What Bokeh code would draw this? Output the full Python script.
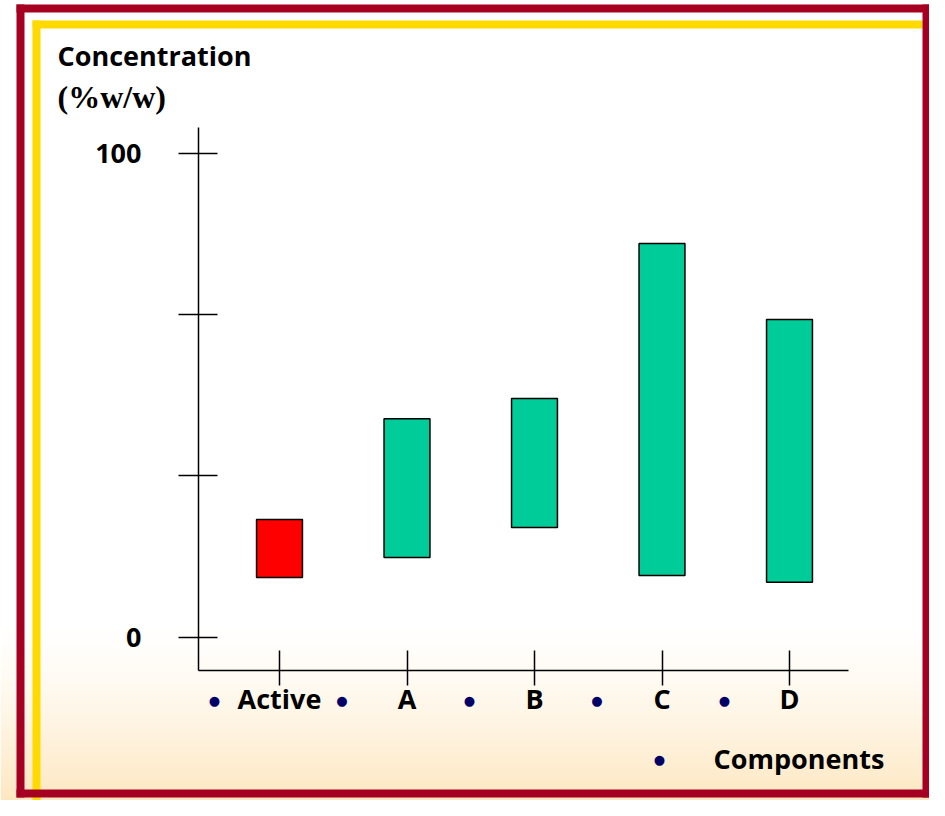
from bokeh.plotting import figure
from bokeh.models import Range1d, LinearAxis, FixedTicker
from bokeh.embed import file_html
from bokeh.resources import INLINE
from bokeh.core.properties import value

# ---------------- data ----------------
categories = ["Active", "A", "B", "C", "D"]
conc_low = [12.3, 16.4, 22.6, 12.7, 11.3]
conc_high = [24.3, 45.1, 49.3, 81.3, 65.6]
bar_colors = ["#FF0000", "#00CC99", "#00CC99", "#00CC99", "#00CC99"]
y_ticks = [0, 100 / 3, 200 / 3, 100]
y_tick_labels = ["0", "", "", "100"]
y_title = "Concentration"
y_unit = "(%w/w)"
x_title = "Components"

# ---------------- layout ----------------
W, H = 929, 800
PX_PER_UNIT_Y = 4.84
Y0_PX = 636.5          # canvas y (from top) of value 0
PX_PER_CAT = 127.5
X0_PX = 279            # canvas x of first category

y_top = Y0_PX / PX_PER_UNIT_Y
y_bot = -(H - Y0_PX) / PX_PER_UNIT_Y
x_left = -X0_PX / PX_PER_CAT
x_right = (W - X0_PX) / PX_PER_CAT

def xv(px):
    return (px - X0_PX) / PX_PER_CAT

def yv(py):
    return (Y0_PX - py) / PX_PER_UNIT_Y

FONT = "Open Sans"

p = figure(width=W, height=H, output_backend="svg", toolbar_location=None,
           x_range=Range1d(x_left, x_right), y_range=Range1d(y_bot, y_top),
           x_axis_type=None, y_axis_type=None, min_border=0,
           background_fill_color="white", border_fill_color="white",
           outline_line_color=None)
p.grid.visible = False
p.extra_x_ranges = {"px": Range1d(0, W)}
p.extra_y_ranges = {"py": Range1d(H, 0)}

# background gradient (white -> light peach)
g0, g1 = 620, 800
n = 50
c_end = (253, 231, 192)
lefts, rights, tops, bots, cols = [], [], [], [], []
for i in range(n):
    t0 = g0 + (g1 - g0) * i / n
    t1 = g0 + (g1 - g0) * (i + 1) / n
    f = ((i + 0.5) / n) ** 1.4
    r = round(255 + (c_end[0] - 255) * f)
    g = round(255 + (c_end[1] - 255) * f)
    b = round(255 + (c_end[2] - 255) * f)
    lefts.append(0); rights.append(W); tops.append(t0); bots.append(t1 + 0.5)
    cols.append("#%02x%02x%02x" % (r, g, b))
p.quad(left=lefts, right=rights, top=tops, bottom=bots, fill_color=cols,
       line_color=None, x_range_name="px", y_range_name="py", level="underlay")

# frame decoration
RED = "#A50021"
YEL = "#FFDA00"
p.quad(left=[32, 32], right=[40, 922], top=[20, 20], bottom=[800, 28],
       fill_color=YEL, line_color=None, x_range_name="px", y_range_name="py")
p.quad(left=[16, 16, 922, 16], right=[24, 929, 929, 929], top=[4, 4, 4, 789],
       bottom=[797, 12, 797, 797], fill_color=RED, line_color=None,
       x_range_name="px", y_range_name="py")

# bars
x_idx = list(range(len(categories)))
p.vbar(x=x_idx, width=0.36, bottom=conc_low, top=conc_high,
       fill_color=bar_colors, line_color="black", line_width=1.5)

# axes
yaxis = LinearAxis(fixed_location=xv(198), bounds=(yv(670), yv(127)),
                   ticker=FixedTicker(ticks=y_ticks),
                   major_label_overrides=dict(zip(y_ticks, y_tick_labels)))
yaxis.major_tick_in = 19
yaxis.major_tick_out = 20
yaxis.minor_tick_line_color = None
yaxis.axis_line_width = 1.5
yaxis.major_tick_line_width = 1.5
yaxis.axis_line_color = "black"
yaxis.major_tick_line_color = "black"
yaxis.major_label_standoff = 37
yaxis.major_label_text_font = FONT
yaxis.major_label_text_font_style = "bold"
yaxis.major_label_text_font_size = "27px"
yaxis.major_label_text_color = "black"
p.add_layout(yaxis, "left")

xaxis = LinearAxis(fixed_location=yv(670), bounds=(xv(198), xv(848)),
                   ticker=FixedTicker(ticks=x_idx),
                   major_label_overrides=dict(zip(x_idx, categories)))
xaxis.major_tick_in = 20
xaxis.major_tick_out = 15
xaxis.minor_tick_line_color = None
xaxis.axis_line_width = 1.5
xaxis.major_tick_line_width = 1.5
xaxis.axis_line_color = "black"
xaxis.major_tick_line_color = "black"
xaxis.major_label_standoff = -6
xaxis.major_label_text_font = FONT
xaxis.major_label_text_font_style = "bold"
xaxis.major_label_text_font_size = "27px"
xaxis.major_label_text_color = "black"
p.add_layout(xaxis, "below")

# bullets before each category label
BULLET = "\u25CF"
p.text(x=x_idx, y=[700] * len(x_idx), text=[BULLET] * len(x_idx),
       x_offset=-65, y_range_name="py", text_align="center",
       text_baseline="middle", text_font=value("DejaVu Sans"),
       text_font_size="13px", text_color="#000066")

# axis titles
p.text(x=[57], y=[55], text=[y_title], x_range_name="px", y_range_name="py",
       text_align="left", text_baseline="middle", text_font=value(FONT),
       text_font_style="bold", text_font_size="27px", text_color="black")
p.text(x=[57], y=[96], text=[y_unit], x_range_name="px", y_range_name="py",
       text_align="left", text_baseline="middle",
       text_font=value("Liberation Serif"), text_font_style="bold",
       text_font_size="32px", text_color="black")
p.text(x=[659], y=[759], text=[BULLET], x_range_name="px", y_range_name="py",
       text_align="center", text_baseline="middle",
       text_font=value("DejaVu Sans"), text_font_size="13px",
       text_color="#000066")
p.text(x=[713], y=[758], text=[x_title], x_range_name="px", y_range_name="py",
       text_align="left", text_baseline="middle", text_font=value(FONT),
       text_font_style="bold", text_font_size="27px", text_color="black")

open("out.html", "w").write(file_html(p, INLINE))
